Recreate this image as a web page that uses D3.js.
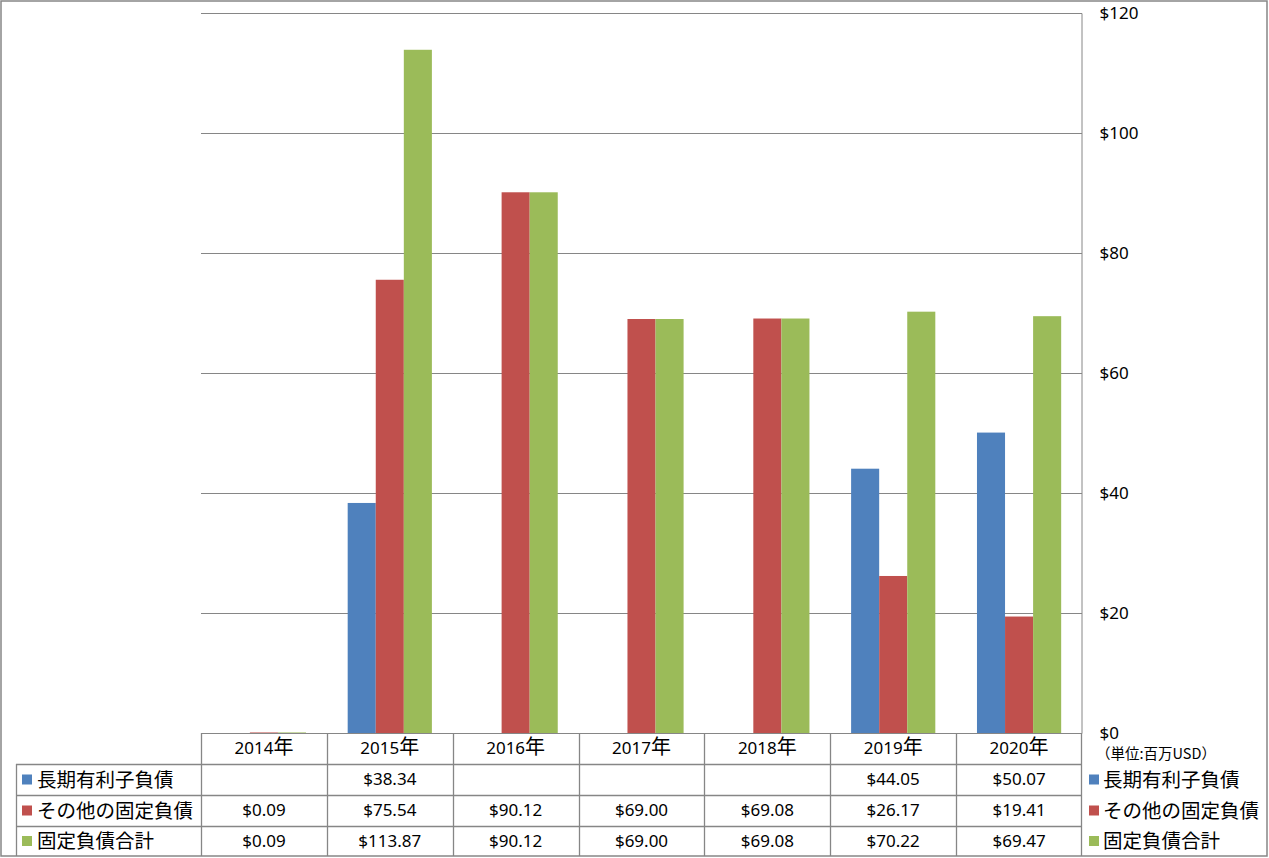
<!DOCTYPE html>
<html><head><meta charset="utf-8">
<script src="https://cdn.jsdelivr.net/npm/d3@7"></script>
<style>
body{margin:0;background:#fff;}
text{font-family:"Noto Sans","Noto Sans CJK JP",sans-serif;fill:#000;}
.cjk{font-family:"Noto Sans CJK JP","Noto Sans",sans-serif;}
</style></head>
<body>
<svg id="c" width="1269" height="858"></svg>
<script>
const categories=["2014年","2015年","2016年","2017年","2018年","2019年","2020年"];
const seriesNames=["長期有利子負債","その他の固定負債","固定負債合計"];
const longTermDebt=[null,38.34,null,null,null,44.05,50.07];
const otherFixed=[0.09,75.54,90.12,69.00,69.08,26.17,19.41];
const totalFixed=[0.09,113.87,90.12,69.00,69.08,70.22,69.47];
const yTicks=[0,20,40,60,80,100,120];
const unitLabel="（単位:百万USD）";
const colors=["#4F81BD","#C0504D","#9BBB59"];
const series=[longTermDebt,otherFixed,totalFixed];

const svg=d3.select("#c");
const L=201,R=1082,T=13,B=733;
const grid="#868686";
const x=d3.scaleBand().domain(categories).range([L,R]).padding(0);
const y=d3.scaleLinear().domain([0,120]).range([B,T]);
const bw=x.bandwidth()*0.223;
const x1=d3.scaleBand().domain([0,1,2]).range([0,bw*3]);

// outer border
svg.append("rect").attr("x",1).attr("y",1).attr("width",1266).attr("height",855)
 .attr("fill","none").attr("stroke",grid).attr("stroke-width",1.5);

// gridlines
svg.append("g").selectAll("line").data(yTicks.filter(d=>d>0)).join("line")
 .attr("x1",L).attr("x2",R).attr("y1",d=>Math.round(y(d))+0.5).attr("y2",d=>Math.round(y(d))+0.5)
 .attr("stroke",grid).attr("stroke-width",1);

// bars
series.forEach((s,i)=>{
 svg.append("g").selectAll("rect").data(categories.map((c,j)=>({c,v:s[j]})).filter(d=>d.v!=null)).join("rect")
  .attr("x",d=>x(d.c)+(x.bandwidth()-bw*3)/2+x1(i))
  .attr("width",x1.bandwidth())
  .attr("y",d=>y(d.v))
  .attr("height",d=>Math.max(B-y(d.v),1))
  .attr("fill",colors[i]);
});

// right axis
const ax=d3.axisRight(y).tickValues(yTicks).tickFormat(d=>"$"+d).tickSize(0).tickPadding(18);
const ag=svg.append("g").attr("transform",`translate(${R-0.5},0)`).call(ax);
ag.select(".domain").attr("stroke",grid).attr("stroke-width",1);
ag.selectAll("text").attr("font-size",17).attr("fill","#000").attr("font-family","Noto Sans");

// baseline
svg.append("line").attr("x1",L).attr("x2",R).attr("y1",B+0.5).attr("y2",B+0.5).attr("stroke",grid);

// table
const rowsY=[733,764,795,826,856];
const tL=16;
const tg=svg.append("g");
rowsY.slice(1,4).forEach(yy=>tg.append("line").attr("x1",tL).attr("x2",R).attr("y1",yy+0.5).attr("y2",yy+0.5).attr("stroke",grid).attr("stroke-width",1.3));
categories.forEach(c=>{
 tg.append("line").attr("x1",Math.round(x(c))+0.5).attr("x2",Math.round(x(c))+0.5).attr("y1",B).attr("y2",856).attr("stroke",grid).attr("stroke-width",1.3);
});
tg.append("line").attr("x1",R-0.5).attr("x2",R-0.5).attr("y1",B).attr("y2",856).attr("stroke",grid).attr("stroke-width",1.3);
tg.append("line").attr("x1",tL+0.5).attr("x2",tL+0.5).attr("y1",rowsY[1]).attr("y2",856).attr("stroke",grid).attr("stroke-width",1.3);

// header
const ht=tg.selectAll("text.h").data(categories).join("text").attr("class","h")
 .attr("x",d=>x(d)+x.bandwidth()/2).attr("y",(rowsY[0]+rowsY[1])/2).attr("dy","0.35em")
 .attr("text-anchor","middle").attr("font-size",17);
ht.append("tspan").text(d=>d.slice(0,-1));
ht.append("tspan").attr("class","cjk").attr("font-size",20).text(d=>d.slice(-1));

series.forEach((s,i)=>{
 const cy=(rowsY[i+1]+rowsY[i+2])/2;
 tg.append("rect").attr("x",22).attr("y",cy-5).attr("width",10).attr("height",10).attr("fill",colors[i]);
 tg.append("text").attr("class","cjk").attr("x",37).attr("y",cy).attr("dy","0.36em").attr("font-size",19.5).text(seriesNames[i]);
 tg.selectAll(null).data(categories.map((c,j)=>({c,v:s[j]})).filter(d=>d.v!=null)).join("text")
  .attr("x",d=>x(d.c)+x.bandwidth()/2).attr("y",cy).attr("dy","0.35em")
  .attr("text-anchor","middle").attr("font-size",17).text(d=>"$"+d.v.toFixed(2));
 tg.append("rect").attr("x",1089).attr("y",cy-5).attr("width",10).attr("height",10).attr("fill",colors[i]);
 tg.append("text").attr("class","cjk").attr("x",1103).attr("y",cy).attr("dy","0.36em").attr("font-size",19.5).text(seriesNames[i]);
});
svg.append("text").attr("class","cjk").attr("x",1096).attr("y",754).attr("dy","0.35em").attr("font-size",14.5).text(unitLabel);
</script>
</body></html>
